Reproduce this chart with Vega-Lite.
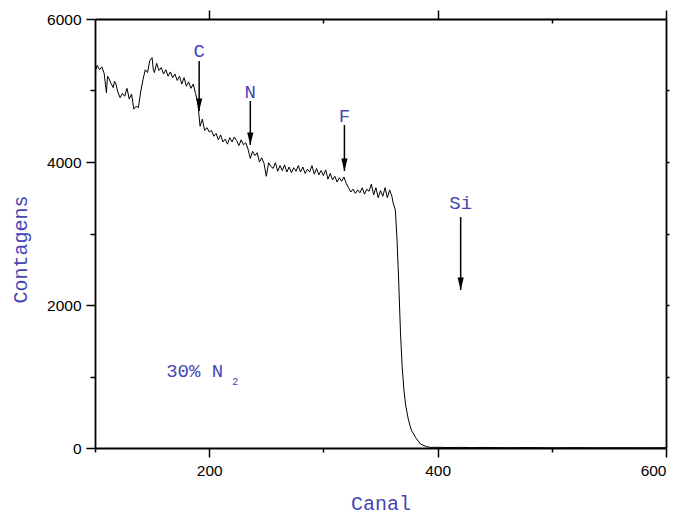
{
  "$schema": "https://vega.github.io/schema/vega-lite/v6.json",
  "width": 571,
  "height": 429,
  "autosize": {"type": "none"},
  "padding": {"left": 95, "top": 19, "right": 14, "bottom": 70},
  "background": "white",
  "config": {
    "view": {"stroke": null},
    "axis": {
      "domainColor": "black",
      "domainWidth": 1.8,
      "tickColor": "black",
      "tickWidth": 1.5,
      "labelFont": "Liberation Sans",
      "labelFontSize": 15.5,
      "labelColor": "black",
      "grid": false,
      "titleFont": "Liberation Mono",
      "titleFontSize": 20,
      "titleFontWeight": "normal",
      "titleColor": "#4646b4"
    }
  },
  "datasets": {
    "spec": [
      {"canal": 100, "contagens": 5420}, {"canal": 101, "contagens": 5300}, {"canal": 102, "contagens": 5350}, {"canal": 104, "contagens": 5290},
      {"canal": 106, "contagens": 5330}, {"canal": 108, "contagens": 5240}, {"canal": 110, "contagens": 4970},
      {"canal": 111, "contagens": 5200}, {"canal": 112, "contagens": 5175}, {"canal": 114, "contagens": 5100}, {"canal": 116, "contagens": 5040},
      {"canal": 117, "contagens": 5130}, {"canal": 118, "contagens": 5110}, {"canal": 120, "contagens": 4980}, {"canal": 122, "contagens": 4900},
      {"canal": 124, "contagens": 4960}, {"canal": 126, "contagens": 4920}, {"canal": 128, "contagens": 5030},
      {"canal": 130, "contagens": 4880}, {"canal": 132, "contagens": 4950}, {"canal": 134, "contagens": 4740},
      {"canal": 136, "contagens": 4780}, {"canal": 138, "contagens": 4760}, {"canal": 140, "contagens": 4980},
      {"canal": 142, "contagens": 5150}, {"canal": 144, "contagens": 5290}, {"canal": 146, "contagens": 5250},
      {"canal": 148, "contagens": 5420}, {"canal": 150, "contagens": 5460}, {"canal": 151, "contagens": 5300}, {"canal": 152, "contagens": 5250},
      {"canal": 154, "contagens": 5380}, {"canal": 156, "contagens": 5280}, {"canal": 158, "contagens": 5320},
      {"canal": 160, "contagens": 5230}, {"canal": 162, "contagens": 5290}, {"canal": 164, "contagens": 5200},
      {"canal": 166, "contagens": 5260}, {"canal": 168, "contagens": 5180}, {"canal": 170, "contagens": 5230},
      {"canal": 172, "contagens": 5140}, {"canal": 174, "contagens": 5200}, {"canal": 176, "contagens": 5090},
      {"canal": 178, "contagens": 5180}, {"canal": 180, "contagens": 5060}, {"canal": 182, "contagens": 5120},
      {"canal": 184, "contagens": 5030}, {"canal": 186, "contagens": 5090}, {"canal": 188, "contagens": 4960},
      {"canal": 190, "contagens": 4830}, {"canal": 192, "contagens": 4500}, {"canal": 194, "contagens": 4600},
      {"canal": 196, "contagens": 4440}, {"canal": 198, "contagens": 4480}, {"canal": 200, "contagens": 4420},
      {"canal": 202, "contagens": 4440}, {"canal": 204, "contagens": 4360}, {"canal": 206, "contagens": 4400},
      {"canal": 208, "contagens": 4310}, {"canal": 210, "contagens": 4380}, {"canal": 212, "contagens": 4280},
      {"canal": 214, "contagens": 4320}, {"canal": 216, "contagens": 4250}, {"canal": 218, "contagens": 4340},
      {"canal": 220, "contagens": 4280}, {"canal": 222, "contagens": 4350}, {"canal": 224, "contagens": 4300},
      {"canal": 226, "contagens": 4230}, {"canal": 228, "contagens": 4310}, {"canal": 230, "contagens": 4240},
      {"canal": 232, "contagens": 4270}, {"canal": 234, "contagens": 4180}, {"canal": 236, "contagens": 4050},
      {"canal": 238, "contagens": 4150}, {"canal": 240, "contagens": 4090}, {"canal": 242, "contagens": 4130},
      {"canal": 244, "contagens": 4000}, {"canal": 246, "contagens": 4060}, {"canal": 248, "contagens": 3980},
      {"canal": 250, "contagens": 3800}, {"canal": 252, "contagens": 3990}, {"canal": 254, "contagens": 3940},
      {"canal": 256, "contagens": 3910}, {"canal": 258, "contagens": 3990}, {"canal": 260, "contagens": 3870},
      {"canal": 262, "contagens": 3950}, {"canal": 264, "contagens": 3880}, {"canal": 266, "contagens": 3960},
      {"canal": 268, "contagens": 3860}, {"canal": 270, "contagens": 3930}, {"canal": 272, "contagens": 3850},
      {"canal": 274, "contagens": 3920}, {"canal": 276, "contagens": 3870}, {"canal": 278, "contagens": 3950},
      {"canal": 280, "contagens": 3860}, {"canal": 282, "contagens": 3930}, {"canal": 284, "contagens": 3840},
      {"canal": 286, "contagens": 3900}, {"canal": 288, "contagens": 3860}, {"canal": 290, "contagens": 3950},
      {"canal": 292, "contagens": 3830}, {"canal": 294, "contagens": 3910}, {"canal": 296, "contagens": 3820},
      {"canal": 298, "contagens": 3880}, {"canal": 300, "contagens": 3810}, {"canal": 302, "contagens": 3890},
      {"canal": 304, "contagens": 3760}, {"canal": 306, "contagens": 3840}, {"canal": 308, "contagens": 3750},
      {"canal": 310, "contagens": 3800}, {"canal": 312, "contagens": 3720}, {"canal": 314, "contagens": 3780},
      {"canal": 316, "contagens": 3730}, {"canal": 318, "contagens": 3790}, {"canal": 320, "contagens": 3700},
      {"canal": 322, "contagens": 3640}, {"canal": 324, "contagens": 3580}, {"canal": 326, "contagens": 3620},
      {"canal": 328, "contagens": 3560}, {"canal": 330, "contagens": 3610}, {"canal": 332, "contagens": 3570},
      {"canal": 334, "contagens": 3640}, {"canal": 336, "contagens": 3550}, {"canal": 338, "contagens": 3620},
      {"canal": 340, "contagens": 3590}, {"canal": 342, "contagens": 3690}, {"canal": 344, "contagens": 3540},
      {"canal": 346, "contagens": 3640}, {"canal": 348, "contagens": 3500}, {"canal": 350, "contagens": 3600},
      {"canal": 352, "contagens": 3520}, {"canal": 354, "contagens": 3640}, {"canal": 356, "contagens": 3500},
      {"canal": 358, "contagens": 3610}, {"canal": 360, "contagens": 3520}, {"canal": 361, "contagens": 3430},
      {"canal": 363, "contagens": 3330}, {"canal": 364.5, "contagens": 2910}, {"canal": 366, "contagens": 2300},
      {"canal": 367.5, "contagens": 1610}, {"canal": 369, "contagens": 1130}, {"canal": 370.5, "contagens": 810},
      {"canal": 372, "contagens": 600}, {"canal": 374.5, "contagens": 390}, {"canal": 377, "contagens": 250},
      {"canal": 381, "contagens": 140}, {"canal": 385, "contagens": 56}, {"canal": 390, "contagens": 20},
      {"canal": 394, "contagens": 8}, {"canal": 400, "contagens": 10}, {"canal": 410, "contagens": 6},
      {"canal": 420, "contagens": 9}, {"canal": 430, "contagens": 5}, {"canal": 440, "contagens": 8},
      {"canal": 460, "contagens": 4}, {"canal": 480, "contagens": 6}, {"canal": 500, "contagens": 3},
      {"canal": 520, "contagens": 5}, {"canal": 540, "contagens": 3}, {"canal": 560, "contagens": 4},
      {"canal": 580, "contagens": 3}, {"canal": 600, "contagens": 4}
    ],
    "arrows": [
      {"el": "C", "x": 191.2, "top": 5413, "tip": 4713, "ly": 5468},
      {"el": "N", "x": 236, "top": 4853, "tip": 4238, "ly": 4895},
      {"el": "F", "x": 318.4, "top": 4517, "tip": 3874, "ly": 4559},
      {"el": "Si", "x": 420.2, "top": 3231, "tip": 2210, "ly": 3343}
    ],
    "note": [{"t": "30% N", "x": 162.3, "y": 993}],
    "sub": [{"t": "2", "x": 220.2, "y": 881}]
  },
  "layer": [
    {
      "data": {"name": "spec"},
      "mark": {"type": "line", "color": "black", "strokeWidth": 1, "clip": true},
      "encoding": {
        "x": {
          "field": "canal", "type": "quantitative",
          "scale": {"domain": [100, 600], "nice": false, "zero": false},
          "axis": {
            "orient": "bottom",
            "values": [100, 200, 300, 400, 500, 600],
            "labelExpr": "datum.value % 200 === 0 ? datum.label : ''",
            "format": "d",
            "tickSize": {"condition": {"test": "datum.value % 200 === 0", "value": 9}, "value": 4},
            "labelPadding": 6,
            "title": "Canal",
            "titleY": 55,
            "titleBaseline": "middle"
          }
        },
        "y": {
          "field": "contagens", "type": "quantitative",
          "scale": {"domain": [0, 6000], "nice": false},
          "axis": {
            "orient": "left",
            "values": [0, 1000, 2000, 3000, 4000, 5000, 6000],
            "labelExpr": "datum.value % 2000 === 0 ? datum.label : ''",
            "format": "d",
            "tickSize": {"condition": {"test": "datum.value % 2000 === 0", "value": 9}, "value": 5},
            "labelPadding": 5,
            "title": "Contagens",
            "titleX": -75,
            "titleY": 230,
            "titleBaseline": "middle",
            "titleAngle": -90
          }
        }
      }
    },
    {
      "data": {"name": "arrows"},
      "mark": {"type": "rule", "color": "black", "strokeWidth": 1.5},
      "encoding": {
        "x": {
          "field": "x", "type": "quantitative",
          "axis": {
            "orient": "top",
            "values": [200, 300, 400, 500, 600],
            "labels": false,
            "tickSize": {"condition": {"test": "datum.value % 200 === 0", "value": 9}, "value": -4},
            "title": null
          }
        },
        "y": {
          "field": "top", "type": "quantitative",
          "axis": {
            "orient": "right",
            "values": [1000, 2000, 3000, 4000, 5000],
            "labels": false,
            "tickSize": 3,
            "title": null
          }
        },
        "y2": {"field": "tip"}
      }
    },
    {
      "data": {"name": "arrows"},
      "mark": {"type": "point", "shape": "M-0.5,-2L0.5,-2L0,0Z", "filled": true, "color": "black", "opacity": 1, "size": 156},
      "encoding": {
        "x": {"field": "x", "type": "quantitative", "axis": null},
        "y": {"field": "tip", "type": "quantitative", "axis": null}
      }
    },
    {
      "data": {"name": "arrows"},
      "mark": {"type": "text", "font": "Liberation Mono", "fontSize": 19, "color": "#4646b4", "align": "center", "baseline": "alphabetic"},
      "encoding": {
        "x": {"field": "x", "type": "quantitative", "axis": null},
        "y": {"field": "ly", "type": "quantitative", "axis": null},
        "text": {"field": "el"}
      }
    },
    {
      "data": {"name": "note"},
      "mark": {"type": "text", "font": "Liberation Mono", "fontSize": 19, "color": "#4646b4", "align": "left", "baseline": "alphabetic"},
      "encoding": {
        "x": {"field": "x", "type": "quantitative", "axis": null},
        "y": {"field": "y", "type": "quantitative", "axis": null},
        "text": {"field": "t"}
      }
    },
    {
      "data": {"name": "sub"},
      "mark": {"type": "text", "font": "Liberation Mono", "fontSize": 10, "color": "#4646b4", "align": "left", "baseline": "alphabetic"},
      "encoding": {
        "x": {"field": "x", "type": "quantitative", "axis": null},
        "y": {"field": "y", "type": "quantitative", "axis": null},
        "text": {"field": "t"}
      }
    }
  ],
  "resolve": {"axis": {"x": "independent", "y": "independent"}}
}
